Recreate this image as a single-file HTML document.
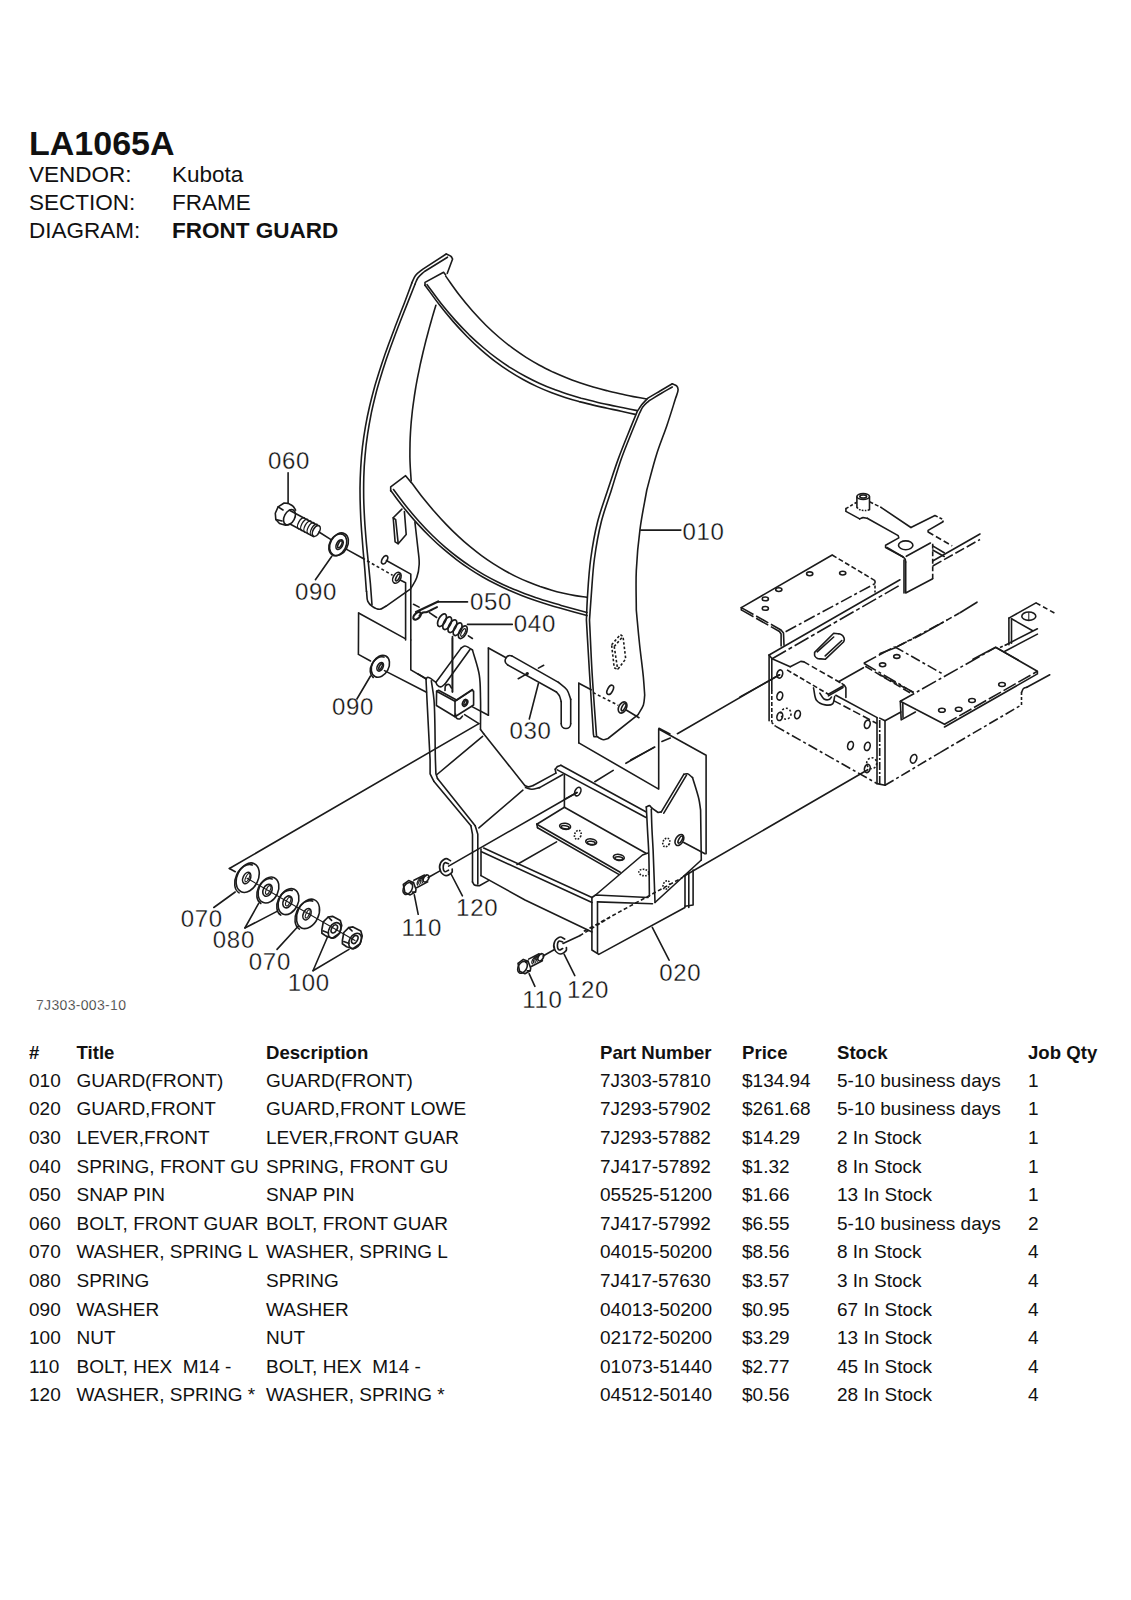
<!DOCTYPE html>
<html><head><meta charset="utf-8">
<style>
html,body{margin:0;padding:0;background:#fff;}
body{width:1131px;height:1600px;position:relative;overflow:hidden;font-family:"Liberation Sans",sans-serif;color:#111;}
.t{position:absolute;font-size:19px;line-height:19px;white-space:pre;}
.b{font-weight:bold;}
.h{position:absolute;white-space:pre;font-size:22.5px;line-height:22.5px;}
svg{position:absolute;left:0;top:0;}
</style></head><body>
<div class="h b" style="font-size:34px;line-height:34px;top:125.9px;left:29px">LA1065A</div>
<div class="h" style="top:163.7px;left:29px">VENDOR:</div>
<div class="h" style="top:163.7px;left:172px">Kubota</div>
<div class="h" style="top:192.2px;left:29px">SECTION:</div>
<div class="h" style="top:192.2px;left:172px">FRAME</div>
<div class="h" style="top:220.2px;left:29px">DIAGRAM:</div>
<div class="h b" style="top:220.2px;left:172px">FRONT GUARD</div>
<div class="t b" style="top:1043.8px;left:29px;font-size:18.6px;line-height:18.6px">#</div>
<div class="t b" style="top:1043.8px;left:76.5px;font-size:18.6px;line-height:18.6px">Title</div>
<div class="t b" style="top:1043.8px;left:266px;font-size:18.6px;line-height:18.6px">Description</div>
<div class="t b" style="top:1043.8px;left:600px;font-size:18.6px;line-height:18.6px">Part Number</div>
<div class="t b" style="top:1043.8px;left:742px;font-size:18.6px;line-height:18.6px">Price</div>
<div class="t b" style="top:1043.8px;left:837px;font-size:18.6px;line-height:18.6px">Stock</div>
<div class="t b" style="top:1043.8px;left:1028px;font-size:18.6px;line-height:18.6px">Job Qty</div>
<div class="t" style="top:1070.7px;left:29px">010</div>
<div class="t" style="top:1070.7px;left:76.5px">GUARD(FRONT)</div>
<div class="t" style="top:1070.7px;left:266px">GUARD(FRONT)</div>
<div class="t" style="top:1070.7px;left:600px">7J303-57810</div>
<div class="t" style="top:1070.7px;left:742px">$134.94</div>
<div class="t" style="top:1070.7px;left:837px">5-10 business days</div>
<div class="t" style="top:1070.7px;left:1028px">1</div>
<div class="t" style="top:1099.3px;left:29px">020</div>
<div class="t" style="top:1099.3px;left:76.5px">GUARD,FRONT</div>
<div class="t" style="top:1099.3px;left:266px">GUARD,FRONT LOWE</div>
<div class="t" style="top:1099.3px;left:600px">7J293-57902</div>
<div class="t" style="top:1099.3px;left:742px">$261.68</div>
<div class="t" style="top:1099.3px;left:837px">5-10 business days</div>
<div class="t" style="top:1099.3px;left:1028px">1</div>
<div class="t" style="top:1127.9px;left:29px">030</div>
<div class="t" style="top:1127.9px;left:76.5px">LEVER,FRONT</div>
<div class="t" style="top:1127.9px;left:266px">LEVER,FRONT GUAR</div>
<div class="t" style="top:1127.9px;left:600px">7J293-57882</div>
<div class="t" style="top:1127.9px;left:742px">$14.29</div>
<div class="t" style="top:1127.9px;left:837px">2 In Stock</div>
<div class="t" style="top:1127.9px;left:1028px">1</div>
<div class="t" style="top:1156.5px;left:29px">040</div>
<div class="t" style="top:1156.5px;left:76.5px">SPRING, FRONT GU</div>
<div class="t" style="top:1156.5px;left:266px">SPRING, FRONT GU</div>
<div class="t" style="top:1156.5px;left:600px">7J417-57892</div>
<div class="t" style="top:1156.5px;left:742px">$1.32</div>
<div class="t" style="top:1156.5px;left:837px">8 In Stock</div>
<div class="t" style="top:1156.5px;left:1028px">1</div>
<div class="t" style="top:1185.1px;left:29px">050</div>
<div class="t" style="top:1185.1px;left:76.5px">SNAP PIN</div>
<div class="t" style="top:1185.1px;left:266px">SNAP PIN</div>
<div class="t" style="top:1185.1px;left:600px">05525-51200</div>
<div class="t" style="top:1185.1px;left:742px">$1.66</div>
<div class="t" style="top:1185.1px;left:837px">13 In Stock</div>
<div class="t" style="top:1185.1px;left:1028px">1</div>
<div class="t" style="top:1213.7px;left:29px">060</div>
<div class="t" style="top:1213.7px;left:76.5px">BOLT, FRONT GUAR</div>
<div class="t" style="top:1213.7px;left:266px">BOLT, FRONT GUAR</div>
<div class="t" style="top:1213.7px;left:600px">7J417-57992</div>
<div class="t" style="top:1213.7px;left:742px">$6.55</div>
<div class="t" style="top:1213.7px;left:837px">5-10 business days</div>
<div class="t" style="top:1213.7px;left:1028px">2</div>
<div class="t" style="top:1242.3px;left:29px">070</div>
<div class="t" style="top:1242.3px;left:76.5px">WASHER, SPRING L</div>
<div class="t" style="top:1242.3px;left:266px">WASHER, SPRING L</div>
<div class="t" style="top:1242.3px;left:600px">04015-50200</div>
<div class="t" style="top:1242.3px;left:742px">$8.56</div>
<div class="t" style="top:1242.3px;left:837px">8 In Stock</div>
<div class="t" style="top:1242.3px;left:1028px">4</div>
<div class="t" style="top:1270.9px;left:29px">080</div>
<div class="t" style="top:1270.9px;left:76.5px">SPRING</div>
<div class="t" style="top:1270.9px;left:266px">SPRING</div>
<div class="t" style="top:1270.9px;left:600px">7J417-57630</div>
<div class="t" style="top:1270.9px;left:742px">$3.57</div>
<div class="t" style="top:1270.9px;left:837px">3 In Stock</div>
<div class="t" style="top:1270.9px;left:1028px">4</div>
<div class="t" style="top:1299.5px;left:29px">090</div>
<div class="t" style="top:1299.5px;left:76.5px">WASHER</div>
<div class="t" style="top:1299.5px;left:266px">WASHER</div>
<div class="t" style="top:1299.5px;left:600px">04013-50200</div>
<div class="t" style="top:1299.5px;left:742px">$0.95</div>
<div class="t" style="top:1299.5px;left:837px">67 In Stock</div>
<div class="t" style="top:1299.5px;left:1028px">4</div>
<div class="t" style="top:1328.1px;left:29px">100</div>
<div class="t" style="top:1328.1px;left:76.5px">NUT</div>
<div class="t" style="top:1328.1px;left:266px">NUT</div>
<div class="t" style="top:1328.1px;left:600px">02172-50200</div>
<div class="t" style="top:1328.1px;left:742px">$3.29</div>
<div class="t" style="top:1328.1px;left:837px">13 In Stock</div>
<div class="t" style="top:1328.1px;left:1028px">4</div>
<div class="t" style="top:1356.7px;left:29px">110</div>
<div class="t" style="top:1356.7px;left:76.5px">BOLT, HEX&nbsp; M14 -</div>
<div class="t" style="top:1356.7px;left:266px">BOLT, HEX&nbsp; M14 -</div>
<div class="t" style="top:1356.7px;left:600px">01073-51440</div>
<div class="t" style="top:1356.7px;left:742px">$2.77</div>
<div class="t" style="top:1356.7px;left:837px">45 In Stock</div>
<div class="t" style="top:1356.7px;left:1028px">4</div>
<div class="t" style="top:1385.3px;left:29px">120</div>
<div class="t" style="top:1385.3px;left:76.5px">WASHER, SPRING *</div>
<div class="t" style="top:1385.3px;left:266px">WASHER, SPRING *</div>
<div class="t" style="top:1385.3px;left:600px">04512-50140</div>
<div class="t" style="top:1385.3px;left:742px">$0.56</div>
<div class="t" style="top:1385.3px;left:837px">28 In Stock</div>
<div class="t" style="top:1385.3px;left:1028px">4</div>
<svg width="1131" height="1600" viewBox="0 0 1131 1600">
<g fill="none" stroke="#1b1b1b" stroke-width="1.6" stroke-linejoin="round" stroke-linecap="round">
<path d="M446.2,254 L422.9,269.1 C420.4,271.2 417.4,273.1 415.5,275.5 C413.8,277.7 413,280.4 411.8,282.9"/>
<path d="M411.9,282.9 C409.3,289.8 406.8,296.6 404.2,303.5 C401.5,310.3 398.8,317.2 396.2,324 C393.6,330.9 391,337.7 388.5,344.6 C386,351.4 383.6,358.3 381.3,365.2 C379.1,372 376.9,378.9 374.9,385.7 C373,392.6 371.2,399.4 369.6,406.3 C368,413.1 366.6,420 365.4,426.9 C364.2,433.7 363.2,440.6 362.4,447.4 C361.6,454.3 361.1,461.1 360.7,468 C360.3,474.9 360.1,481.7 360,488.6 C360,495.4 360.1,502.3 360.4,509.1 C360.6,516 361,522.8 361.5,529.7 C362,536.6 362.6,543.4 363.1,550.3 C363.7,557.1 364.4,564 364.9,570.8 C365.4,577.7 365.9,584.5 366.4,591.4"/>
<path d="M366.6,591.4 C367,594.7 366.6,598.7 367.8,601.3 C368.8,603.4 370.4,605 372.2,606.3 C374.2,607.7 377.3,609.4 379.6,609.3 C381.8,609.2 383.7,607.3 385.8,606.3"/>
<path d="M385.8,606.3 L410.6,588.9 C412.6,585.2 415.3,581.8 416.7,577.8 C418.2,573.6 419,568.9 419.2,564.2 C419.4,559.4 418.6,555 418,549.3 C417.2,541.6 415.9,531.2 414.9,522.1"/>
<path d="M447.5,257.2 L424.5,271.5 C422.3,273.6 419.6,275.5 418,277.8 C416.5,279.9 415.9,282.3 414.8,284.5"/>
<path d="M414.9,284.5 C412.1,291.6 409.2,298.7 406.4,305.9 C403.6,313 400.8,320.1 398,327.2 C395.3,334.3 392.6,341.5 390.1,348.6 C387.5,355.7 385.1,362.8 382.8,370 C380.6,377.1 378.4,384.2 376.5,391.3 C374.7,398.4 372.9,405.6 371.4,412.7 C370,419.8 368.7,426.9 367.6,434.1 C366.5,441.2 365.7,448.3 365.1,455.4 C364.4,462.5 364,469.7 363.8,476.8 C363.6,483.9 363.6,491 363.7,498.2 C363.8,505.3 364.2,512.4 364.6,519.5 C365,526.7 365.6,533.8 366.2,540.9 C366.8,548 367.6,555.1 368.3,562.3 C369,569.4 369.7,576.5 370.4,583.6 C371,590.8 371.5,597.9 372,605"/>
<path d="M446.2,254 C447.8,254.8 449.9,255.4 451,256.4 C451.8,257.2 452.1,258.1 452.6,259 L447.3,273.3"/>
<path d="M435.9,305.2 C434.7,309.1 433.5,313 432.4,316.9 C431.3,320.8 430.2,324.7 429.1,328.6 C428.1,332.5 427,336.4 426,340.3 C425,344.2 424.1,348.1 423.1,352 C422.2,355.9 421.3,359.8 420.4,363.7 C419.6,367.6 418.8,371.5 418,375.4 C417.2,379.3 416.5,383.2 415.8,387.1 C415.2,391 414.5,394.9 414,398.8 C413.4,402.7 412.9,406.6 412.4,410.5 C412,414.4 411.6,418.3 411.2,422.2 C410.9,426.1 410.6,430 410.4,433.9 C410.2,437.8 410,441.7 410,445.6 C409.9,449.5 409.9,453.4 409.9,457.3 C410,461.2 410.1,465.1 410.4,469 C410.6,472.9 410.9,476.8 411.2,480.7"/>
<path d="M425,285.5 L425,282.4 L443.6,272.3 L445.7,274.9"/>
<path d="M445.7,276.1 C450.2,282.3 454.5,288.8 459.1,294.7 C463.5,300.4 468,305.8 472.5,311 C476.9,315.9 481.4,320.7 485.9,325.2 C490.3,329.5 494.8,333.6 499.3,337.5 C503.7,341.3 508.2,344.8 512.7,348.2 C517.1,351.4 521.6,354.5 526.1,357.4 C530.6,360.2 535,362.8 539.5,365.3 C544,367.7 548.5,369.9 553,372.1 C557.4,374.1 561.9,376 566.4,377.8 C570.8,379.6 575.3,381.2 579.8,382.8 C584.2,384.3 588.7,385.7 593.2,387 C597.6,388.3 602.1,389.5 606.6,390.6 C611,391.8 615.5,392.8 620,393.8 C624.4,394.8 628.9,395.7 633.4,396.6 C637.9,397.4 642.3,398.2 646.8,399"/>
<path d="M425,285.2 C429.7,291.6 434.3,298.2 439,304.3 C443.6,310.3 448.3,316 453,321.4 C457.6,326.7 462.3,331.7 467,336.5 C471.6,341.2 476.3,345.6 481.1,349.8 C485.7,353.8 490.3,357.7 495.1,361.3 C499.7,364.8 504.4,368.1 509.1,371.1 C513.7,374.1 518.4,376.9 523.1,379.5 C527.7,382.1 532.4,384.4 537.1,386.6 C541.7,388.7 546.4,390.7 551.1,392.5 C555.8,394.3 560.4,395.9 565.1,397.4 C569.8,398.9 574.5,400.3 579.1,401.6 C583.8,402.8 588.5,404 593.2,405.1 C597.8,406.2 602.5,407.2 607.2,408.3 C611.8,409.3 616.5,410.2 621.2,411.3 C625.9,412.3 630.5,413.3 635.2,414.4"/>
<path d="M427.1,284.7 C431.8,291 436.4,297.5 441.1,303.5 C445.7,309.3 450.4,314.8 455.1,320.1 C459.7,325.2 464.4,330.1 469.1,334.8 C473.7,339.2 478.4,343.5 483.2,347.5 C487.8,351.5 492.4,355.2 497.2,358.6 C501.8,362 506.5,365.2 511.2,368.2 C515.8,371.1 520.5,373.8 525.2,376.3 C529.8,378.8 534.5,381.1 539.2,383.2 C543.8,385.3 548.5,387.3 553.2,389.1 C557.9,390.8 562.5,392.5 567.2,394 C571.9,395.5 576.6,396.9 581.2,398.2 C585.9,399.4 590.6,400.6 595.3,401.7 C599.9,402.9 604.6,403.9 609.3,404.9 C613.9,405.9 618.6,406.8 623.3,407.8 C628,408.7 632.6,409.7 637.3,410.6"/>
<path d="M672.3,383.8 C673.7,384.5 675.6,384.9 676.6,385.9 C677.5,386.8 678,388.1 678.1,389.6 C678.2,391.9 676.4,395.6 675.5,398.6 C672.7,407.5 670.1,416.1 667,425.2 C663.7,434.9 659.7,444.5 656.4,454.9 C652.9,466 650,478.3 646.8,490 C644.5,503.1 641.7,516 640,529.3 C638.2,542.9 636.9,557 636.3,570.6 C635.7,583.9 636.3,596.9 636.3,610 C636.6,613.3 636.8,615.9 637.2,620 C637.8,626.7 638.8,637.3 639.8,646.5 C640.9,656.4 642.6,668.6 643.4,677.5 C644,684.2 644.3,689.3 644.7,695.2 C644.3,698.4 644.4,701.8 643.4,704.9 C642.3,708.2 639.9,711.4 638.1,714.6 L608,738.5 C606.5,738.9 605.1,739.9 603.6,739.8 C602.1,739.7 600.7,738.6 599.2,738 L597.4,736.7"/>
<path d="M672.3,383.8 C668.2,386.2 664.1,388.6 660,391 C655.9,393.4 651.9,395.7 647.9,398.1 C645.8,400.4 643.3,402.7 641.5,405 C639.9,407.1 638.7,409.3 637.3,411.4 C634.8,417.4 632.6,422.6 629.9,429.4 C626.4,438.1 621.9,449.1 618.2,459.1 C614.5,469.3 611.2,479.7 607.7,490 C604.3,500.6 600.4,510.7 597.6,521.8 C594.6,533.6 592.4,546.6 590.7,559 C589,571.3 588.2,585.1 587.5,596.1 C586.9,604.9 586.8,612 586.4,620 C587.4,637.7 588.4,654.7 589.5,673 C590.7,692.6 592.1,713.7 593.4,734.1 L593.9,736.7 L597.4,736.7"/>
<path d="M672.3,387 C668.5,389.2 664.8,391.2 661,393.5 C657,395.8 653,398.4 649,400.8 C647,402.7 644.7,404.4 643.1,406.6 C641.5,408.7 640.6,411.2 639.4,413.5 C636.9,419.5 634.7,424.8 632,431.5 C628.6,439.9 624.2,450.5 620.8,460.2 C617.4,470 614.5,480.1 611.4,490 C608,500.6 604.1,510.7 601.3,521.8 C598.3,533.6 596.1,546.6 594.4,559 C592.7,571.3 592.1,585.1 591.2,596.1 C590.5,604.9 590.1,612 589.5,620 C590.4,637.7 591,654.6 592.1,673 C593.3,693.1 595,714.9 596.5,735.8"/>
<path d="M390.7,491 L390.7,486.9 L405.6,475.7 L411.2,482.5"/>
<path d="M411.2,482.3 C415.1,487.4 419,492.8 422.9,497.8 C426.8,502.6 430.7,507.3 434.6,511.8 C438.5,516.3 442.4,520.5 446.4,524.6 C450.2,528.6 454.1,532.4 458.1,536.1 C461.9,539.7 465.8,543.1 469.8,546.4 C473.7,549.6 477.6,552.7 481.5,555.6 C485.4,558.4 489.3,561.1 493.2,563.7 C497.1,566.2 501,568.5 505,570.7 C508.8,572.9 512.7,575 516.7,576.9 C520.6,578.8 524.5,580.5 528.4,582.1 C532.3,583.7 536.2,585.2 540.1,586.6 C544,587.9 547.9,589.1 551.8,590.2 C555.7,591.4 559.6,592.3 563.6,593.2 C567.5,594.1 571.4,594.9 575.3,595.6 C579.2,596.3 583.1,596.8 587,597.4"/>
<path d="M390.7,490.6 C395.1,496.3 399.3,502.2 403.8,507.7 C408.1,513 412.4,518.2 416.9,523.1 C421.2,527.8 425.5,532.3 430,536.7 C434.3,540.9 438.6,544.9 443,548.7 C447.4,552.4 451.7,556 456.1,559.3 C460.4,562.6 464.8,565.7 469.2,568.6 C473.5,571.5 477.9,574.2 482.3,576.7 C486.6,579.2 491,581.6 495.4,583.8 C499.7,586 504.1,588.1 508.5,590 C512.8,591.9 517.2,593.7 521.6,595.4 C525.9,597.1 530.3,598.7 534.7,600.2 C539,601.7 543.4,603.1 547.7,604.4 C552.1,605.8 556.5,607.1 560.8,608.3 C565.2,609.6 569.5,610.8 573.9,612 C578.3,613.2 582.6,614.4 587,615.6"/>
<path d="M393.5,489.5 C397.8,495.2 402,501.1 406.4,506.5 C410.6,511.8 414.9,516.9 419.3,521.7 C423.5,526.4 427.8,530.9 432.2,535.2 C436.4,539.3 440.7,543.3 445.1,547.1 C449.3,550.7 453.6,554.2 458,557.5 C462.2,560.7 466.6,563.8 470.9,566.6 C475.2,569.4 479.5,572.1 483.8,574.6 C488.1,577 492.4,579.3 496.7,581.5 C501,583.7 505.3,585.7 509.6,587.6 C513.9,589.4 518.2,591.2 522.5,592.8 C526.8,594.5 531.1,596 535.4,597.5 C539.7,598.9 544,600.3 548.3,601.6 C552.6,602.9 556.9,604.2 561.2,605.4 C565.5,606.6 569.8,607.8 574.1,609 C578.4,610.1 582.7,611.3 587,612.4"/>
<path d="M401.9,509.1 L393.2,517.8 L395.1,541.9 L398.2,543.7 L406.2,534.5 L404.4,511.5"/>
<path d="M393.2,517.8 L395.7,519.6 L398.2,543.7"/>
<path d="M611.6,644.8 L620.4,634.6 L623,636.4 L625.7,658.9 L617.7,669.5 L614.2,667.7 L611.6,644.8" stroke-dasharray="2.5 2" stroke-linecap="butt"/>
<path d="M614.2,646.5 L623,636.4" stroke-dasharray="2.5 2" stroke-linecap="butt"/>
<path d="M614.2,646.5 L617.7,669.5" stroke-dasharray="2.5 2" stroke-linecap="butt"/>
<ellipse cx="610.2" cy="689.8" rx="2.6" ry="5" transform="rotate(28 610.2 689.8)"/>
<ellipse cx="622.6" cy="707.5" rx="3.8" ry="6" transform="rotate(28 622.6 707.5)"/>
<ellipse cx="623.6" cy="707.2" rx="1.6" ry="4" transform="rotate(28 623.6 707.2)"/>
<path d="M593,692.5 L618.2,705.3" stroke-dasharray="3 2.5" stroke-linecap="butt"/>
<path d="M626.6,710.2 L639,717.7"/>
<ellipse cx="384.6" cy="559.8" rx="2.5" ry="4.5" transform="rotate(28 384.6 559.8)"/>
<ellipse cx="396.9" cy="577.8" rx="3.7" ry="5.8" transform="rotate(28 396.9 577.8)"/>
<ellipse cx="397.8" cy="577.5" rx="1.5" ry="3.8" transform="rotate(28 397.8 577.5)"/>
<path d="M386.4,560.5 L410.8,574.1 L410.8,640"/>
<path d="M400.6,580.3 L405.6,582.7 L405.6,640"/>
<path d="M362.3,558 L392.6,575.3" stroke-dasharray="3 2.5" stroke-linecap="butt"/>
<path d="M288.1,472.7 L288.1,503.4"/>
<path d="M295.6,510.1 C294.7,508.8 294.1,507.2 292.9,506.1 C291.6,504.9 289.7,504.3 288.1,503.4 L284.1,503 L278.1,506.9 L275.3,513.3 L275.8,519.5 L279.5,523.5 L285.5,525.3 L289,524.5"/>
<path d="M278.1,506.9 L283,510"/>
<path d="M275.8,519.5 L282,521"/>
<ellipse cx="289.5" cy="517.2" rx="5.2" ry="8.2" transform="rotate(28 289.5 517.2)"/>
<path d="M289.5,510.2 L317.8,525.5"/>
<path d="M290,524 L313.5,536.6"/>
<ellipse cx="316.3" cy="530.9" rx="3.2" ry="5.9" transform="rotate(28 316.3 530.9)"/>
<path d="M304.5,517.8 A3,6.3 28 0 0 298.5,528.9" stroke-width="1.3"/>
<path d="M307.7,519.4 A3,6.3 28 0 0 301.7,530.6" stroke-width="1.3"/>
<path d="M310.9,521.1 A3,6.3 28 0 0 304.9,532.2" stroke-width="1.3"/>
<path d="M314.1,522.7 A3,6.3 28 0 0 308.1,533.8" stroke-width="1.3"/>
<path d="M317.3,524.3 A3,6.3 28 0 0 311.3,535.4" stroke-width="1.3"/>
<path d="M319,532 L331,539.6"/>
<ellipse cx="339" cy="544.3" rx="8.6" ry="12" transform="rotate(28 339 544.3)"/>
<ellipse cx="337.8" cy="544.8" rx="8.2" ry="11.5" transform="rotate(28 337.8 544.8)"/>
<ellipse cx="339.6" cy="544.6" rx="3" ry="5.3" transform="rotate(28 339.6 544.6)"/>
<ellipse cx="339.9" cy="544.3" rx="1.6" ry="3.8" transform="rotate(28 339.9 544.3)"/>
<path d="M346.2,549.1 L362.3,558"/>
<path d="M331.8,556.3 L315.4,579.7"/>
<ellipse cx="380.4" cy="666.3" rx="8.3" ry="11.6" transform="rotate(28 380.4 666.3)"/>
<path d="M384.0,657.1 A8.3,11.6 28 0 0 373.2,677.5"/>
<ellipse cx="380.2" cy="666.8" rx="2.8" ry="4.6" transform="rotate(28 380.2 666.8)"/>
<ellipse cx="380.6" cy="666.6" rx="1.2" ry="3.2" transform="rotate(28 380.6 666.6)"/>
<path d="M384.5,670.6 L426.5,692.2"/>
<path d="M370.5,676 L356.6,699.5"/>
<path d="M640.6,530.1 L680.9,530.1"/>
<path d="M480.5,729.4 C480.5,718.9 480.8,707.6 480.5,698 C480.3,689.8 480.5,682.8 479.3,675.1 C478,666.9 474.8,658.4 472.5,650.1"/>
<path d="M472.5,650.1 C471.3,649.3 470.1,648.3 468.8,647.6 C467.6,646.9 466.2,646 465,646 C463.7,646 462.5,647.3 461.3,647.9"/>
<path d="M461.3,647.9 L436,682.3"/>
<path d="M436,682.3 C433.3,680.6 429.6,677.2 427.9,677.3 C427,677.4 426.6,678.3 426,678.8"/>
<path d="M426,678.8 C426.3,685.9 426.6,691.1 427,700 C427.7,714.9 429.1,740 430.1,760 L430.1,773.8 L433.8,781.2"/>
<path d="M433.8,781.2 L470.9,825.8"/>
<path d="M470.9,825.8 L472.5,834.3 L472.5,882"/>
<path d="M472.5,882 C473.2,883 473.5,884.4 474.5,885 C475.7,885.7 477.8,885.5 479.4,885.7 L489,880.4"/>
<path d="M436,682.3 C436.4,683.2 436.5,684.3 437.2,685 C438,685.9 439.6,687 440.9,686.9 C442.3,686.8 443.8,684.8 445.2,683.8"/>
<path d="M445.2,683.8 L470,649.5"/>
<path d="M431.3,680.7 C432.2,687.1 433.3,691.8 434,700 C435.2,714.5 434.9,740 435.4,760 L435.9,773.8 L437.5,778.6"/>
<path d="M437.5,778.6 L475.2,825.8"/>
<path d="M475.2,825.8 L477.8,834.3 L477.8,884.1"/>
<path d="M480.5,729.4 L483.7,733.7"/>
<path d="M483.7,733.7 L524.8,785.5"/>
<path d="M524.8,785.5 C526,786 527,786.8 528.3,786.9 C529.8,787 531.6,786 533.2,785.5"/>
<path d="M533.2,785.5 L555.9,773.1"/>
<path d="M525.5,787.6 C527.6,788.2 529.6,789.2 531.8,789.3 C534.3,789.4 537,788.2 539.6,787.6"/>
<path d="M539.6,787.6 L562.9,774.5"/>
<path d="M437,774.5 L482.6,736.3"/>
<path d="M478.9,827.9 L522.9,790.2"/>
<path d="M555.9,773.1 L555.2,769.2"/>
<path d="M555.2,769.2 C556,768.3 556.6,767.2 557.5,766.5 C558.4,765.9 559.7,765.7 560.8,765.3"/>
<path d="M560.8,765.3 L646.3,812"/>
<path d="M557.3,769.9 L646,817.5"/>
<path d="M564.4,774.7 L564.4,807.2"/>
<path d="M564.4,807.2 L646,853.2"/>
<ellipse cx="577.8" cy="791.6" rx="2.8" ry="4.5" transform="rotate(25 577.8 791.6)"/>
<path d="M577,792.5 L564.4,799.4"/>
<path d="M536.8,824.2 L564.4,807.2"/>
<path d="M536.8,824.2 L620.2,872.3"/>
<path d="M537.5,827.7 L618.8,874.4"/>
<path d="M536.8,824.2 L537.5,827.7"/>
<ellipse cx="565.1" cy="826.3" rx="5.5" ry="3" transform="rotate(8 565.1 826.3)"/>
<ellipse cx="565.1" cy="827.3" rx="4" ry="1.6" transform="rotate(8 565.1 827.3)"/>
<ellipse cx="577.8" cy="834.8" rx="3.2" ry="4.5" transform="rotate(20 577.8 834.8)" stroke-dasharray="1.6 1.3" stroke-linecap="butt"/>
<ellipse cx="591.2" cy="841.9" rx="5.5" ry="3" transform="rotate(8 591.2 841.9)"/>
<ellipse cx="591.2" cy="842.9" rx="4" ry="1.6" transform="rotate(8 591.2 842.9)"/>
<ellipse cx="618.8" cy="857.4" rx="5.5" ry="3" transform="rotate(8 618.8 857.4)"/>
<ellipse cx="618.8" cy="858.4" rx="4" ry="1.6" transform="rotate(8 618.8 858.4)"/>
<path d="M517,864.5 L556.6,841.9"/>
<path d="M483.7,848.1 L592,897.5"/>
<path d="M481.5,851.8 L592,902.5"/>
<path d="M481,849.1 L481,875.6"/>
<path d="M481,875.6 L525,900 L592,932"/>
<path d="M646.3,806.9 C647.3,806.5 648.5,805.4 649.4,805.6 C650.3,805.8 651.1,807.3 651.9,808.1"/>
<path d="M651.9,808.1 L658.1,812.5 L661.3,811.9"/>
<path d="M661.3,811.9 L683.8,774.4"/>
<path d="M663.8,813.2 L686.5,775.2"/>
<path d="M683.8,774.4 C685,774.2 686.2,773.5 687.5,773.8 C689.1,774.2 690.8,776.3 692.5,777.5"/>
<path d="M692.5,777.5 C694.6,784.6 697.4,792.8 698.8,798.8 C699.8,803.1 700,806.3 700.6,810 L701.3,860"/>
<path d="M646.3,806.9 C646.7,814.6 647.1,822.2 647.5,830 C647.9,837.9 648.5,844.7 648.8,853.8 C649.2,865.9 649.2,882.1 649.4,896.3"/>
<path d="M651.3,809.4 C651.5,816.3 651.7,823.2 652,830 C652.3,836.7 652.7,841.8 653.1,850 C653.7,863.4 654.4,885 655,902.5"/>
<path d="M655,902.5 L701.3,860"/>
<path d="M591.9,897.5 L595.6,895 L648.1,897.5"/>
<path d="M597.5,901.9 L652.5,903.8"/>
<path d="M595.6,895 L642.5,855 L648.1,853.1"/>
<path d="M591.9,897.5 L591.9,950 L598.8,954.4 L685,907.5"/>
<path d="M597.5,901.9 L597.5,953.1"/>
<path d="M685,876.3 L685,906.3"/>
<path d="M688.8,872.5 L688.8,907.5"/>
<path d="M693.1,870 L693.1,905 L685,906.3"/>
<path d="M583.8,931.3 L682.5,877.5" stroke-dasharray="4 2.5" stroke-linecap="butt"/>
<path d="M683.8,876.3 L867.7,769.7"/>
<ellipse cx="643.8" cy="872.5" rx="5" ry="3.2" transform="rotate(10 643.8 872.5)" stroke-dasharray="1.6 1.3" stroke-linecap="butt"/>
<ellipse cx="666.3" cy="885" rx="3" ry="4.5" transform="rotate(25 666.3 885)" stroke-dasharray="1.6 1.3" stroke-linecap="butt"/>
<ellipse cx="666.3" cy="842.5" rx="3.3" ry="4.5" transform="rotate(25 666.3 842.5)" stroke-dasharray="1.6 1.3" stroke-linecap="butt"/>
<ellipse cx="679.4" cy="840" rx="3.8" ry="6" transform="rotate(30 679.4 840)"/>
<ellipse cx="680.4" cy="839.6" rx="1.6" ry="4" transform="rotate(30 680.4 839.6)"/>
<path d="M683.8,842.5 L705,853.8"/>
<path d="M652.3,927.4 L669.1,960.2"/>
<path d="M578.8,742.9 L658.7,789.1 L658.7,729 L706.1,755.2 L706.1,853.8"/>
<path d="M594.8,781.7 L613.2,770.4"/>
<path d="M625.9,763.3 L654.2,747.1"/>
<path d="M358.6,613 L358.4,654.4 L370.5,661"/>
<path d="M358.6,613 L405.2,638.6"/>
<path d="M410.8,640 L410.8,669.9 L426,678.8"/>
<path d="M418,673.9 L426,678.8"/>
<path d="M452.4,638 L452.4,692"/>
<path d="M488.4,648 L488.4,715.2"/>
<path d="M488.4,648 L506.1,657.7"/>
<path d="M472,706.6 L488.4,715.2"/>
<path d="M578.8,683.2 L591.2,689.8"/>
<path d="M578.8,683.2 L578.8,742.9"/>
<path d="M658.9,728.3 L670,734"/>
<path d="M229.4,868.5 L478.9,723.6"/>
<path d="M478.9,723.6 L464.6,714.6"/>
<path d="M448.6,866.1 L577,792.5"/>
<path d="M630.7,760 L654.8,747.1"/>
<path d="M661.9,741.5 L670.3,738"/>
<path d="M677.4,733.7 L779.3,674.8"/>
<path d="M235.3,871.7 L229.4,868.5"/>
<path d="M436.6,691.2 L436.4,705.5 L455,716.7 L455,701.3 L436.6,691.2"/>
<path d="M436.6,691.2 L438.6,690.2 L456.5,700"/>
<path d="M455,701.3 L472,690.2 L473.6,691.2 L473.6,705 L455,716.7"/>
<path d="M456.5,700 L472.5,689.5"/>
<ellipse cx="465.1" cy="702.9" rx="2.4" ry="3.6" transform="rotate(25 465.1 702.9)"/>
<ellipse cx="465.4" cy="702.7" rx="1.1" ry="2.4" transform="rotate(25 465.4 702.7)"/>
<path d="M455.5,714 C455.7,715.2 455.4,716.7 456,717.5 C456.7,718.4 458.4,719.2 459.5,719 C460.6,718.8 461.5,717 462.5,716"/>
<path d="M445,690.5 C445.2,689 444.8,687 445.5,686 C446.2,685.1 448,684.2 449,684.5 C450,684.8 450.7,686.8 451.5,688"/>
<path d="M511.8,655.9 A5,5 0 0 0 507.6,664.9"/>
<path d="M511.8,655.9 L558.5,682.4"/>
<path d="M558.5,682.4 C561.3,684.9 565,687 567,689.9 C568.9,692.7 569.5,696.2 570.7,699.4"/>
<path d="M570.7,699.4 L570.7,723.8"/>
<path d="M570.7,723.8 A4.75,4.75 0 0 1 561.2,723.8"/>
<path d="M561.2,723.8 L561.2,701.5"/>
<path d="M561.2,701.5 C560.6,699.7 560.3,697.6 559.5,696 C558.7,694.5 557.4,693.3 556.4,692"/>
<path d="M556.4,692 L507.6,664.9"/>
<path d="M538.4,668.1 L543.7,665.3"/>
<path d="M518.2,678.7 L527.7,673.4"/>
<ellipse cx="527.2" cy="673.6" rx="0.8" ry="0.8" transform="rotate(0 527.2 673.6)" stroke-width="1.8"/>
<path d="M538.4,683.5 L529.3,719"/>
<ellipse cx="442" cy="620.2" rx="3.5" ry="6.9" transform="rotate(28 442 620.2)" stroke-width="1.7"/>
<ellipse cx="447.2" cy="623.2" rx="3.5" ry="6.9" transform="rotate(28 447.2 623.2)" stroke-width="1.7"/>
<ellipse cx="452.4" cy="626.2" rx="3.5" ry="6.9" transform="rotate(28 452.4 626.2)" stroke-width="1.7"/>
<ellipse cx="457.6" cy="629.2" rx="3.5" ry="6.9" transform="rotate(28 457.6 629.2)" stroke-width="1.7"/>
<ellipse cx="462.8" cy="632.2" rx="3.5" ry="6.9" transform="rotate(28 462.8 632.2)" stroke-width="1.7"/>
<ellipse cx="463.2" cy="632.5" rx="1.6" ry="4.2" transform="rotate(28 463.2 632.5)" stroke-width="1.2"/>
<path d="M468.4,635.8 L472.4,638.5"/>
<path d="M429.4,612.7 L436.6,617.5"/>
<path d="M452.5,636.5 L452.5,692"/>
<path d="M467.5,624.4 L512.3,624.4"/>
<ellipse cx="417.1" cy="615.9" rx="2.6" ry="4.6" transform="rotate(45 417.1 615.9)" stroke-width="2.2"/>
<path d="M416,612 L438.2,601.5" stroke-width="2.2"/>
<path d="M419.5,615.5 C420.7,614.5 421.7,613.1 423,612.5 C424.2,612 425.4,612.5 427,612 C429.6,611.2 433.7,608.7 437,607.1" stroke-width="2"/>
<path d="M413.5,604.3 L419.1,607.1"/>
<path d="M437.8,601.9 L467.5,601.9"/>
<path d="M403.3,884.5 L408.6,880.6 L413.4,882.4 L416,889.3 L415.5,892 L410.2,894.9 L404.9,892.5 L403.3,884.5"/>
<ellipse cx="407.8" cy="888.5" rx="4.2" ry="6.4" transform="rotate(30 407.8 888.5)"/>
<path d="M413.4,882.4 L411,883.6"/>
<path d="M415.5,892 L412.5,892.1"/>
<path d="M413.9,880.3 L424.5,875"/>
<path d="M416.6,887.7 L427.7,881.9"/>
<ellipse cx="426.1" cy="878.5" rx="2.4" ry="3.9" transform="rotate(30 426.1 878.5)"/>
<path d="M421.6,878.2 A2.2,4.0 28 0 0 417.8,885.2" stroke-width="1.1"/>
<path d="M423.2,877.4 A2.2,4.0 28 0 0 419.4,884.4" stroke-width="1.1"/>
<path d="M424.8,876.6 A2.2,4.0 28 0 0 421.0,883.6" stroke-width="1.1"/>
<path d="M426.4,875.8 A2.2,4.0 28 0 0 422.6,882.8" stroke-width="1.1"/>
<path d="M450.5,860.7 C449,860 447.5,858.5 446,858.7 C444.2,858.9 441.4,861.2 440.5,863.2 C439.5,865.3 439.5,869.1 440.5,871.2 C441.4,873.2 444.1,875.5 446,875.7 C447.9,875.9 451.1,873.6 452,872.2 C452.6,871.3 452.1,870.2 452.2,869.2" stroke-width="1.7"/>
<path d="M448.5,863.7 C447.3,863.4 445.9,862.3 445,862.7 C444,863.2 443.2,865.7 443.2,867.2 C443.2,868.7 444,871.3 445,871.7 C445.9,872.1 447.3,870.7 448.5,870.2"/>
<path d="M428.2,877.5 L440.4,870.6"/>
<path d="M418.2,914.3 L414.3,894.9"/>
<path d="M462.4,895.8 L451.3,874.5"/>
<path d="M518,963.3 L523.3,959.4 L528.1,961.2 L530.7,968.1 L530.2,970.8 L524.9,973.7 L519.6,971.3 L518,963.3"/>
<ellipse cx="522.5" cy="967.3" rx="4.2" ry="6.4" transform="rotate(30 522.5 967.3)"/>
<path d="M528.1,961.2 L525.7,962.4"/>
<path d="M530.2,970.8 L527.2,970.9"/>
<path d="M528.6,959.1 L539.2,953.8"/>
<path d="M531.3,966.5 L542.4,960.7"/>
<ellipse cx="540.8" cy="957.3" rx="2.4" ry="3.9" transform="rotate(30 540.8 957.3)"/>
<path d="M536.3,957.0 A2.2,4.0 28 0 0 532.5,964.0" stroke-width="1.1"/>
<path d="M537.9,956.2 A2.2,4.0 28 0 0 534.1,963.2" stroke-width="1.1"/>
<path d="M539.5,955.4 A2.2,4.0 28 0 0 535.7,962.4" stroke-width="1.1"/>
<path d="M541.1,954.6 A2.2,4.0 28 0 0 537.3,961.6" stroke-width="1.1"/>
<path d="M564.7,939 C563.2,938.3 561.7,936.8 560.2,937 C558.4,937.2 555.6,939.5 554.7,941.5 C553.7,943.6 553.7,947.4 554.7,949.5 C555.6,951.5 558.3,953.8 560.2,954 C562.1,954.2 565.3,951.9 566.2,950.5 C566.8,949.6 566.3,948.5 566.4,947.5" stroke-width="1.7"/>
<path d="M562.7,942 C561.5,941.7 560.1,940.6 559.2,941 C558.2,941.5 557.4,944 557.4,945.5 C557.4,947 558.2,949.6 559.2,950 C560.1,950.4 561.5,949 562.7,948.5"/>
<path d="M543,956 L554.5,949.5"/>
<path d="M563,943.5 L579.7,935.7"/>
<path d="M579.7,935.7 L610,917.3" stroke-dasharray="4 2.5" stroke-linecap="butt"/>
<path d="M534.9,986.3 L529.1,973.7"/>
<path d="M574.8,975.6 L564.1,954.2"/>
<ellipse cx="247.7" cy="877.7" rx="10.5" ry="15.5" transform="rotate(25 247.7 877.7)"/>
<path d="M252.3,864.9 A10.5,15.5 25 0 0 239.1,892.9"/>
<ellipse cx="246.7" cy="878" rx="3.6" ry="6" transform="rotate(25 246.7 878)"/>
<ellipse cx="247.4" cy="877.7" rx="1.6" ry="4.5" transform="rotate(25 247.4 877.7)" stroke-width="1.1"/>
<ellipse cx="268.5" cy="890" rx="9.6" ry="13.6" transform="rotate(25 268.5 890)"/>
<path d="M272.2,878.9 A9.6,13.6 25 0 0 260.8,903.5"/>
<ellipse cx="267.5" cy="890.3" rx="4.3" ry="6.3" transform="rotate(25 267.5 890.3)"/>
<ellipse cx="268.2" cy="890" rx="1.9" ry="4.7" transform="rotate(25 268.2 890)" stroke-width="1.1"/>
<ellipse cx="288.5" cy="901.6" rx="9.6" ry="13.6" transform="rotate(25 288.5 901.6)"/>
<path d="M292.2,890.5 A9.6,13.6 25 0 0 280.8,915.1"/>
<ellipse cx="287.5" cy="901.9" rx="4.3" ry="6.3" transform="rotate(25 287.5 901.9)"/>
<ellipse cx="288.2" cy="901.6" rx="1.9" ry="4.7" transform="rotate(25 288.2 901.6)" stroke-width="1.1"/>
<ellipse cx="308" cy="913.9" rx="10.5" ry="15.5" transform="rotate(25 308 913.9)"/>
<path d="M312.6,901.1 A10.5,15.5 25 0 0 299.4,929.1"/>
<ellipse cx="307" cy="914.2" rx="3.6" ry="6" transform="rotate(25 307 914.2)"/>
<ellipse cx="307.7" cy="913.9" rx="1.6" ry="4.5" transform="rotate(25 307.7 913.9)" stroke-width="1.1"/>
<path d="M321.9,929.7 L323.3,921.9 L328.2,917 L332.5,916.3 L340.3,920.5 L341.7,925.5 L339.6,933.2 L332.5,938.2 L326.1,936.1 L321.9,933.2 L321.9,929.7" stroke-width="1.7"/>
<ellipse cx="334.6" cy="930.4" rx="5.6" ry="8.3" transform="rotate(30 334.6 930.4)"/>
<ellipse cx="334.3" cy="928.9" rx="2.6" ry="4.4" transform="rotate(30 334.3 928.9)"/>
<path d="M328.2,917 L331.6,920.4"/>
<path d="M323.3,930.9 L328.6,932.9"/>
<path d="M342.4,940.3 L343.8,932.5 L348.7,927.6 L353,926.9 L360.8,931.1 L362.2,936.1 L360.1,943.8 L353,948.8 L346.6,946.7 L342.4,943.8 L342.4,940.3" stroke-width="1.7"/>
<ellipse cx="355.1" cy="941" rx="5.6" ry="8.3" transform="rotate(30 355.1 941)"/>
<ellipse cx="354.8" cy="939.5" rx="2.6" ry="4.4" transform="rotate(30 354.8 939.5)"/>
<path d="M348.7,927.6 L352.1,931"/>
<path d="M343.8,941.5 L349.1,943.5"/>
<path d="M247,878.3 L355,940.5" stroke-width="1.1"/>
<path d="M213.8,907.5 L235.2,892"/>
<path d="M244.9,928 L258.5,903.6"/>
<path d="M244.9,928 L277,911.4"/>
<path d="M277,949.4 L298.4,926"/>
<path d="M313,970.7 L327.6,936.7"/>
<path d="M313,970.7 L349,949.4"/>
<path d="M741.3,607.6 L832.2,555"/>
<path d="M832.2,555 L875,580.6" stroke-dasharray="5 2.5" stroke-linecap="butt"/>
<path d="M875,580.6 L875,592.6" stroke-dasharray="3 2" stroke-linecap="butt"/>
<path d="M741.3,607.6 L741.3,609.9"/>
<path d="M741.3,607.6 L781,630" stroke-dasharray="14 3" stroke-linecap="butt"/>
<path d="M741.3,609.9 L779.5,631.5" stroke-dasharray="14 3" stroke-linecap="butt"/>
<path d="M779.5,631.5 L781.1,634 L781.1,646"/>
<path d="M781,630 L783.5,633 L784,645.2"/>
<path d="M785.6,631.7 L875,583.6" stroke-dasharray="12 3 3 3" stroke-linecap="butt"/>
<ellipse cx="809.7" cy="573.8" rx="3.1" ry="1.9" transform="rotate(0 809.7 573.8)"/>
<ellipse cx="842.7" cy="573.1" rx="3.1" ry="1.9" transform="rotate(0 842.7 573.1)"/>
<ellipse cx="778.8" cy="589.6" rx="3.1" ry="1.9" transform="rotate(0 778.8 589.6)"/>
<ellipse cx="765.3" cy="598.9" rx="3.1" ry="1.9" transform="rotate(0 765.3 598.9)"/>
<ellipse cx="765.3" cy="608.4" rx="3.1" ry="1.9" transform="rotate(0 765.3 608.4)"/>
<path d="M769.1,655 L900,579.8"/>
<path d="M932.7,561 L980,534"/>
<path d="M772.1,658.7 L900,585.1" stroke-dasharray="16 3 4 3" stroke-linecap="butt"/>
<path d="M932.7,566 L980,539.5" stroke-dasharray="10 3" stroke-linecap="butt"/>
<path d="M769.1,655 L772.1,658.7"/>
<path d="M769.1,655 L769.1,720.8"/>
<path d="M771.8,658.7 L771.8,690"/>
<path d="M771.8,690 L771.8,722.6" stroke-dasharray="4 2" stroke-linecap="butt"/>
<path d="M775.4,726.1 L877,783.6" stroke-dasharray="10 3 3 3" stroke-linecap="butt"/>
<path d="M771.8,722.6 L775.4,726.1" stroke-dasharray="2 2" stroke-linecap="butt"/>
<path d="M877,718.1 L877,783.6"/>
<path d="M879.7,720 L879.7,785" stroke-dasharray="8 2 2 2" stroke-linecap="butt"/>
<path d="M885,720.8 L885,785.3"/>
<path d="M877,783.6 L885,785.3"/>
<path d="M885,785.3 L940,752.6" stroke-dasharray="10 3 3 3" stroke-linecap="butt"/>
<path d="M940,752.6 L1021.5,704.9" stroke-dasharray="10 3 3 3" stroke-linecap="butt"/>
<path d="M1021.5,704.9 L1021.5,692.5" stroke-dasharray="3 2" stroke-linecap="butt"/>
<path d="M1021.5,692.5 C1022.2,691.2 1022.5,689.4 1023.5,688.5 C1024.4,687.7 1025.7,687.6 1026.8,687.2"/>
<path d="M1026.8,687.2 L1049.8,674.8"/>
<path d="M879.7,718.1 L885,720.8 L900.9,712"/>
<ellipse cx="913.6" cy="758.8" rx="3" ry="4.5" transform="rotate(20 913.6 758.8)"/>
<path d="M772.1,658.7 L790.2,666.7"/>
<path d="M790.2,666.7 L800.8,661.4 L804,661.9"/>
<path d="M804,661.9 L842.1,683.7" stroke-dasharray="6 3" stroke-linecap="butt"/>
<path d="M842.1,683.7 C842.8,684.2 843.7,684.6 844.3,685.3 C845,686 845.4,687 845.9,687.9 L845.9,697.5"/>
<path d="M787,669.9 L828.4,694.3" stroke-dasharray="5 2.5" stroke-linecap="butt"/>
<path d="M828.4,694.3 L844.3,685.3"/>
<path d="M828.4,695.9 L843,687.5"/>
<path d="M813.5,687.9 C814.6,692.1 814.4,697.7 816.7,700.6 C818.6,703 822.4,704.4 825.2,704.9 C827.7,705.3 831,705.2 832.6,703.8 C834.2,702.4 834,698.9 834.7,696.4"/>
<path d="M819.9,693.2 C821.3,695.1 822.3,698 824,699 C825.4,699.8 827.7,700 829,699.5 C830.1,699.1 830.7,697.8 831.5,697"/>
<path d="M835.8,695.3 L877.2,717.6"/>
<path d="M833.7,700.6 L877,723.5" stroke-dasharray="8 3" stroke-linecap="butt"/>
<path d="M839,681.5 L863.4,667.7"/>
<ellipse cx="779.8" cy="674" rx="2.8" ry="4.2" transform="rotate(15 779.8 674)"/>
<ellipse cx="779.8" cy="696" rx="2.8" ry="4.2" transform="rotate(15 779.8 696)"/>
<ellipse cx="779.8" cy="716.4" rx="2.8" ry="4.2" transform="rotate(15 779.8 716.4)"/>
<ellipse cx="797.5" cy="714.6" rx="2.8" ry="4.2" transform="rotate(15 797.5 714.6)"/>
<ellipse cx="867.3" cy="724.3" rx="2.8" ry="4.2" transform="rotate(15 867.3 724.3)"/>
<ellipse cx="850.5" cy="745.6" rx="2.8" ry="4.2" transform="rotate(15 850.5 745.6)"/>
<ellipse cx="867.3" cy="746.4" rx="2.8" ry="4.2" transform="rotate(15 867.3 746.4)"/>
<ellipse cx="867.3" cy="768.5" rx="2.8" ry="4.2" transform="rotate(15 867.3 768.5)"/>
<ellipse cx="786" cy="713.7" rx="5" ry="5.5" transform="rotate(0 786 713.7)" stroke-dasharray="2 2" stroke-linecap="butt"/>
<ellipse cx="871.7" cy="763.2" rx="5" ry="5.5" transform="rotate(0 871.7 763.2)" stroke-dasharray="2 2" stroke-linecap="butt"/>
<path d="M740,696.9 L779.8,674.8"/>
<path d="M814.6,652.4 C814.7,653.6 814.3,655 814.8,656 C815.3,657 816.5,658 817.5,658.5 C818.5,659 819.8,658.8 820.9,658.9 L825.2,659.3 L843.5,642 C843.8,641.2 844.3,640.5 844.3,639.6 C844.3,638.5 843.7,636.9 843,636 C842.3,635.1 841,634.3 840,634 C839.3,633.7 838.6,633.9 837.9,633.8 L833.7,633.3 L814.6,652.4"/>
<path d="M817.2,651.8 L833.7,637"/>
<path d="M825.2,655.9 L841.8,640.5"/>
<path d="M863.8,663.3 L894.6,646.7" stroke-dasharray="14 3" stroke-linecap="butt"/>
<path d="M894.6,646.7 L942.8,674" stroke-dasharray="10 3 3 3" stroke-linecap="butt"/>
<path d="M863.8,663.3 L913.6,692.5" stroke-dasharray="14 3 3 3" stroke-linecap="butt"/>
<path d="M865.3,666.3 L913,694.5" stroke-dasharray="8 3" stroke-linecap="butt"/>
<ellipse cx="882.6" cy="664.8" rx="3.1" ry="1.9" transform="rotate(0 882.6 664.8)"/>
<ellipse cx="896.8" cy="656.5" rx="3.1" ry="1.9" transform="rotate(0 896.8 656.5)"/>
<path d="M897.7,646.2 L920,635.4" stroke-dasharray="10 3 3 3" stroke-linecap="butt"/>
<path d="M900.3,701.3 L995.8,647.4" stroke-dasharray="16 3 3 3" stroke-linecap="butt"/>
<path d="M995.8,647.4 L1037.4,671.3 L1037.4,673.9 L944.5,727"/>
<path d="M944.5,724.3 L1037.4,671.3" stroke-dasharray="14 3" stroke-linecap="butt"/>
<path d="M900.3,701.3 L944.5,724.3"/>
<path d="M900.3,701.3 L901.2,719.9 L915.4,712"/>
<path d="M902.8,703.5 L903,717.5"/>
<ellipse cx="941.9" cy="710.2" rx="3.3" ry="2" transform="rotate(0 941.9 710.2)"/>
<ellipse cx="958.7" cy="709.3" rx="3.3" ry="2" transform="rotate(0 958.7 709.3)"/>
<ellipse cx="972" cy="700.5" rx="3.3" ry="2" transform="rotate(0 972 700.5)"/>
<ellipse cx="1002" cy="684.5" rx="3.3" ry="2" transform="rotate(0 1002 684.5)"/>
<path d="M880,653.6 L895.9,647.4"/>
<path d="M880,674.8 L913.6,692.5" stroke-dasharray="8 3" stroke-linecap="butt"/>
<path d="M895.9,647.4 L947.2,620" stroke-dasharray="10 3 3 3" stroke-linecap="butt"/>
<path d="M1008.9,618.1 L1036,602.9"/>
<path d="M1036,602.9 L1056.6,614.2" stroke-dasharray="5 3" stroke-linecap="butt"/>
<path d="M1008.9,618.1 L1008.9,644.7"/>
<path d="M1011.5,618.8 L1011.5,643.3"/>
<path d="M1011.5,618.8 L1032.7,630.7"/>
<path d="M1006.2,644.7 L1037.4,628.8"/>
<path d="M1004.9,651.3 L1037.4,634.1"/>
<path d="M1000,647.5 L1006.2,644.7" stroke-dasharray="3 2" stroke-linecap="butt"/>
<ellipse cx="1028.8" cy="616.2" rx="7" ry="4.2" transform="rotate(0 1028.8 616.2)"/>
<path d="M1028.8,612.5 L1028.8,620" stroke-width="1"/>
<path d="M973,659.3 L995.6,647.3 L1018.1,660"/>
<path d="M920,635.4 L938.6,624.8"/>
<path d="M938.6,624.8 L960,612.7" stroke-dasharray="6 3" stroke-linecap="butt"/>
<path d="M960,612.7 L977,602.2"/>
<ellipse cx="863.2" cy="496.5" rx="6.3" ry="2.9" transform="rotate(0 863.2 496.5)"/>
<ellipse cx="863.2" cy="496.5" rx="3.4" ry="1.5" transform="rotate(0 863.2 496.5)"/>
<path d="M856.9,497 L856.9,507.4"/>
<path d="M869.5,497 L869.5,509.7"/>
<path d="M856.9,507.4 C857.9,508.2 858.7,509.3 860,509.8 C861.6,510.5 864.3,510.6 866,510.5 C867.3,510.4 868.3,510 869.5,509.7" stroke-dasharray="1.6 1.3" stroke-linecap="butt"/>
<path d="M845.9,508.6 L856.8,502.2" stroke-dasharray="3 2" stroke-linecap="butt"/>
<path d="M869.5,501.7 L881,507.4" stroke-dasharray="4 2" stroke-linecap="butt"/>
<path d="M881,507.4 L910.9,527.5"/>
<path d="M910.9,527.5 L935,515.5"/>
<path d="M935,515.5 L943,519.5 L943,521.8" stroke-dasharray="3 2" stroke-linecap="butt"/>
<path d="M943,521.8 L928.1,530.4 L928.1,532"/>
<path d="M928.1,532 L952.2,545.9" stroke-dasharray="6 3" stroke-linecap="butt"/>
<path d="M845.9,508.6 L845.9,511.4 L859.7,518.9"/>
<path d="M859.7,518.9 C860.8,518.5 861.8,517.7 863,517.6 C864.3,517.5 865.8,518.1 867.2,518.3"/>
<path d="M867.2,518.3 L898.2,535.6 L898.8,537.9 L885.6,545.3 L885.6,547.6 L902.8,556.8"/>
<path d="M902.8,556.8 C903.5,557.5 904.5,558.1 905,559 C905.5,559.9 905.5,561 905.7,562"/>
<path d="M905.7,562 L905.7,593 L932.7,578.7"/>
<path d="M932.7,578.7 L932.7,543.6" stroke-dasharray="5 2.5" stroke-linecap="butt"/>
<path d="M906.3,556.3 L930.4,543"/>
<path d="M887,547.5 L902.8,556.8"/>
<path d="M904,560 L904,593"/>
<ellipse cx="905.7" cy="545.3" rx="7.2" ry="4.4" transform="rotate(0 905.7 545.3)"/>
<path d="M932.7,545.9 L944.2,552.8"/>
<path d="M932.7,550 L944.2,556.5"/>
</g>
<g font-family="Liberation Sans, sans-serif" fill="#111" stroke="#fff" stroke-width="0.3">
<text x="268" y="468.9" font-size="24" letter-spacing="0.7">060</text>
<text x="295" y="600.3" font-size="24" letter-spacing="0.7">090</text>
<text x="332" y="715" font-size="24" letter-spacing="0.7">090</text>
<text x="682.4" y="539.7" font-size="24" letter-spacing="0.7">010</text>
<text x="470" y="609.8" font-size="24" letter-spacing="0.7">050</text>
<text x="513.8" y="632.1" font-size="24" letter-spacing="0.7">040</text>
<text x="509.5" y="739.2" font-size="24" letter-spacing="0.7">030</text>
<text x="659.2" y="980.5" font-size="24" letter-spacing="0.7">020</text>
<text x="180.7" y="927" font-size="24" letter-spacing="0.7">070</text>
<text x="212.8" y="948.4" font-size="24" letter-spacing="0.7">080</text>
<text x="248.8" y="969.8" font-size="24" letter-spacing="0.7">070</text>
<text x="287.7" y="991.2" font-size="24" letter-spacing="0.7">100</text>
<text x="401.6" y="935.7" font-size="24" letter-spacing="0.7">110</text>
<text x="456.1" y="916.3" font-size="24" letter-spacing="0.7">120</text>
<text x="522.2" y="1007.7" font-size="24" letter-spacing="0.7">110</text>
<text x="567" y="998" font-size="24" letter-spacing="0.7">120</text>
<text x="36" y="1009.8" font-size="14" textLength="90" lengthAdjust="spacing">7J303-003-10</text>
</g>
</svg>
</body></html>
